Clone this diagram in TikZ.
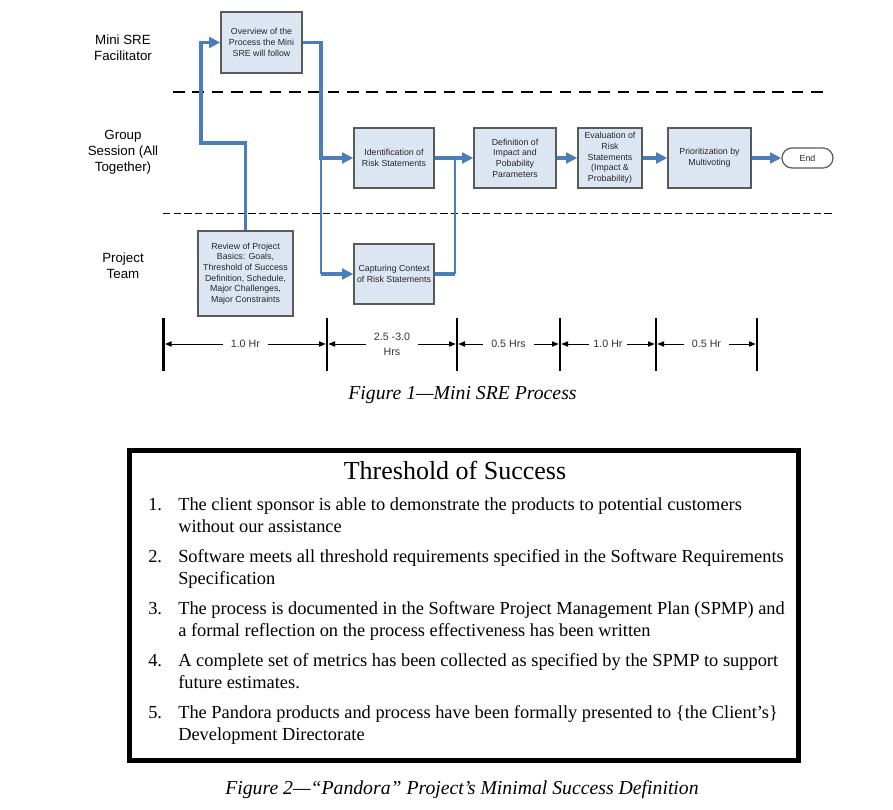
\documentclass[tikz,border=0pt]{standalone}
\usepackage{fontspec}
\setmainfont{Liberation Serif}
\setsansfont{Liberation Sans}
\usetikzlibrary{arrows.meta}
\definecolor{flowblue}{RGB}{74,126,187}
\definecolor{boxfill}{RGB}{220,230,242}
\definecolor{boxline}{RGB}{90,90,90}

\tikzset{
  procbox/.style={draw=boxline, line width=0.9pt, fill=boxfill, inner sep=1pt, align=center,
    font=\sffamily\fontsize{6.6}{8}\selectfont, text=black!85},
  endbox/.style={draw=boxline, line width=0.9pt, fill=white, rounded corners=7.5pt,
    font=\sffamily\fontsize{6.6}{8}\selectfont, text=black!85},
  flow/.style={flowblue, line width=2.4pt, -{Triangle[length=8.5pt,width=8pt]}},
  flowline/.style={flowblue, line width=2.4pt},
  flowthin/.style={flowblue, line width=1.1pt},
  lane/.style={align=center, font=\sffamily\fontsize{10}{12}\selectfont},
  span/.style={line width=0.75pt, {Triangle[length=5pt,width=4pt]}-{Triangle[length=5pt,width=4pt]},
    shorten <=1pt, shorten >=1pt},
  spanlbl/.style={fill=white, inner xsep=6pt, inner ysep=1pt, align=center,
    font=\sffamily\fontsize{8}{11}\selectfont, text=black!80},
  itemline/.style={anchor=base west, inner sep=0pt, font=\fontsize{13.8}{16}\selectfont},
  caption/.style={anchor=base, font=\itshape\fontsize{14.8}{18}\selectfont}
}

\begin{document}
\begin{tikzpicture}[x=0.75pt, y=-0.75pt]
\useasboundingbox (0,0) rectangle (893,810);

% Figure 1
\begin{scope}
{
\node[lane] (facil) at (123,48) {Mini SRE\\Facilitator};
\node[lane] (group) at (123,152) {Group\\Session (All\\Together)};
\node[lane] (team) at (123,266) {Project\\Team};

\draw[line width=1.2pt, dash pattern=on 8.75pt off 5.75pt] (173,92)--(828,92);
\draw[line width=0.6pt, dash pattern=on 5.5pt off 2.5pt] (163,213)--(833,213);

\node[procbox, minimum width=60.75pt, minimum height=45.75pt] (ovw) at (261.5,42.5)
  {Overview of the\\Process the Mini\\SRE will follow};
\node[procbox, minimum width=71.25pt, minimum height=63.75pt] (rev) at (245.5,273.5)
  {Review of Project\\Basics: Goals,\\Threshold of Success\\Definition, Schedule,\\Major Challenges,\\Major Constraints};
\node[procbox, minimum width=60pt, minimum height=45pt] (ident) at (394,158)
  {Identification of\\Risk Statements};
\node[procbox, minimum width=60pt, minimum height=45pt] (capt) at (394,274)
  {Capturing Context\\of Risk Statements};
\node[procbox, minimum width=61.5pt, minimum height=45pt] (defn) at (515,158)
  {Definition of\\Impact and\\Pobability\\Parameters};
\node[procbox, minimum width=48pt, minimum height=45pt] (eval) at (610,158)
  {Evaluation of\\Risk\\Statements\\(Impact \&\\Probability)};
\node[procbox, minimum width=62.25pt, minimum height=45pt] (prio) at (709.5,158)
  {Prioritization by\\Multivoting};
\node[endbox, minimum width=38.25pt, minimum height=15pt] (end) at (807.5,158) {End};

% blue connectors
\coordinate (bendL) at (201,143);
\coordinate (splitA) at (321,158);
\coordinate (splitB) at (321,274);
\coordinate (joinA) at (455,158);
\coordinate (joinB) at (455,274);

\draw[flow] (rev.north) |- (bendL) |- (ovw.west);
\draw[flow] (ovw.east) -| (splitA) -- (ident.west);
\draw[flowthin] (splitA)--(splitB);
\draw[flow] (splitB)--(capt.west);
\draw[flowline] (capt.east)--(joinB);
\draw[flowthin] (joinB)--(joinA);
\draw[flow] (ident.east)--(defn.west);
\draw[flow] (defn.east)--(eval.west);
\draw[flow] (eval.east)--(prio.west);
\draw[flow] (prio.east)--(end.west);

% time line
\foreach \x [count=\i from 0] in {163.7,327,457,560,656,757}
{
\draw[line width=2pt] (\x,318)--(\x,371);
\coordinate (t\i) at (\x,344);
}

\draw[span] (t0)--(t1) node[midway, spanlbl] {1.0 Hr};
\draw[span] (t1)--(t2) node[midway, spanlbl] {2.5 -3.0\\Hrs};
\draw[span] (t2)--(t3) node[midway, spanlbl] {0.5 Hrs};
\draw[span] (t3)--(t4) node[midway, spanlbl, inner xsep=3pt] {1.0 Hr};
\draw[span] (t4)--(t5) node[midway, spanlbl] {0.5 Hr};

\node[caption] (cap1) at (462.5,399) {Figure 1---Mini SRE Process};
}
\end{scope}

% Figure 2
\begin{scope}
{
\draw[line width=3.75pt] (129,450.5) rectangle (798.5,760);

\node[anchor=base, font=\fontsize{19.5}{23}\selectfont] (tos) at (455,479) {Threshold of Success};

\node[itemline] (n1) at (148,510) {1.};
\node[itemline] (l1a) at (178,510) {The client sponsor is able to demonstrate the products to potential customers};
\node[itemline] (l1b) at (178,532) {without our assistance};

\node[itemline] (n2) at (148,562) {2.};
\node[itemline] (l2a) at (178,562) {Software meets all threshold requirements specified in the Software Requirements};
\node[itemline] (l2b) at (178,584) {Specification};

\node[itemline] (n3) at (148,614) {3.};
\node[itemline] (l3a) at (178,614) {The process is documented in the Software Project Management Plan (SPMP) and};
\node[itemline] (l3b) at (178,636) {a formal reflection on the process effectiveness has been written};

\node[itemline] (n4) at (148,666) {4.};
\node[itemline] (l4a) at (178,666) {A complete set of metrics has been collected as specified by the SPMP to support};
\node[itemline] (l4b) at (178,688) {future estimates.};

\node[itemline] (n5) at (148,718) {5.};
\node[itemline] (l5a) at (178,718) {The Pandora products and process have been formally presented to \{the Client's\}};
\node[itemline] (l5b) at (178,740) {Development Directorate};

\node[caption] (cap2) at (462,794) {Figure 2---``Pandora'' Project's Minimal Success Definition};
}
\end{scope}

\end{tikzpicture}
\end{document}
